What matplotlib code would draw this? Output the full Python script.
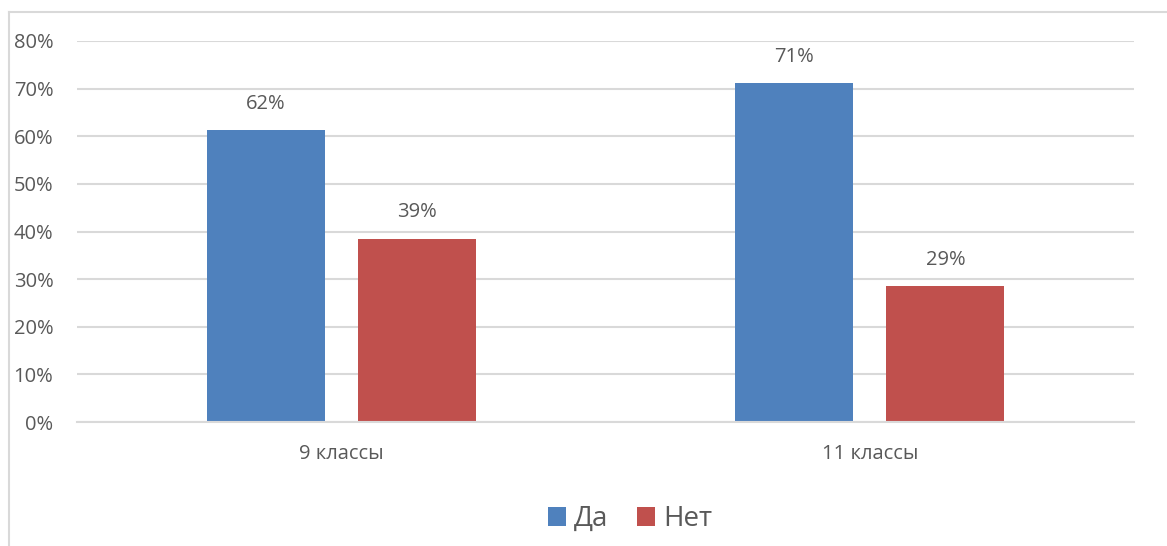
import numpy as np
import matplotlib.pyplot as plt
from matplotlib.lines import Line2D
from matplotlib.ticker import PercentFormatter

categories = ['9 классы', '11 классы']
series_names = ['Да', 'Нет']
da_values = [0.613, 0.712]
net_values = [0.385, 0.285]
da_labels = ['62%', '71%']
net_labels = ['39%', '29%']
colors = ['#4F81BD', '#C0504D']

plt.rcParams['font.family'] = ['Open Sans', 'DejaVu Sans']
text_color = '#595959'
grid_color = '#D9D9D9'

fig = plt.figure(figsize=(11.67, 5.46), dpi=100)
ax = fig.add_axes([77 / 1167, 1 - 422 / 546, (1134 - 77) / 1167, (422 - 41) / 546])

x = np.arange(len(categories))
width = 0.223
offset = 0.143

bars_da = ax.bar(x - offset, da_values, width, color=colors[0], label=series_names[0], zorder=3)
bars_net = ax.bar(x + offset, net_values, width, color=colors[1], label=series_names[1], zorder=3)

for bars, labels in [(bars_da, da_labels), (bars_net, net_labels)]:
    for b, lab in zip(bars, labels):
        ax.annotate(lab, (b.get_x() + b.get_width() / 2, b.get_height()),
                    xytext=(0, 19), textcoords='offset points', ha='center', va='center',
                    fontsize=14.5, color=text_color)

ax.set_xlim(-0.5, 1.5)
ax.set_ylim(0, 0.8)
ax.set_yticks(np.arange(0, 0.81, 0.1))
ax.yaxis.set_major_formatter(PercentFormatter(1.0, decimals=0))
ax.set_xticks(x)
ax.set_xticklabels(categories)
ax.tick_params(axis='both', length=0, labelsize=14.5, colors=text_color)
ax.tick_params(axis='y', pad=17)
ax.tick_params(axis='x', pad=16)

ax.grid(axis='y', color=grid_color, linewidth=1.5, zorder=0)
for s in ['top', 'right', 'left']:
    ax.spines[s].set_visible(False)
ax.spines['bottom'].set_color(grid_color)
ax.spines['bottom'].set_linewidth(1.5)
ax.spines['bottom'].set_zorder(4)

leg = fig.legend(handles=[bars_da, bars_net], labels=series_names, loc='center',
                 bbox_to_anchor=(630 / 1167, 1 - 519 / 546), ncol=2, frameon=False,
                 fontsize=20, handlelength=0.65, handleheight=0.65, handletextpad=0.3,
                 columnspacing=1.0)
for t in leg.get_texts():
    t.set_color(text_color)

# chart frame (only top and left edges are in the crop)
fig.add_artist(Line2D([9 / 1167, 9 / 1167], [0, 1 - 12 / 546], color=grid_color, linewidth=1.5))
fig.add_artist(Line2D([9 / 1167, 1], [1 - 12 / 546, 1 - 12 / 546], color=grid_color, linewidth=1.5))

fig.savefig('out.png', dpi=100)
